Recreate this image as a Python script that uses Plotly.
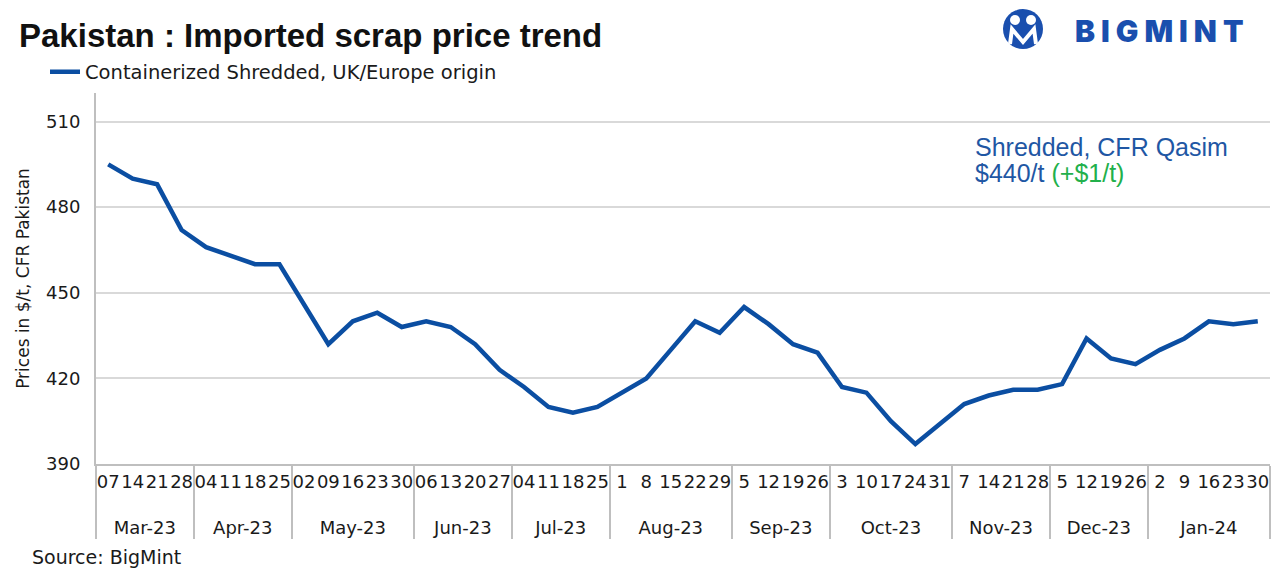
import plotly.graph_objects as go

# ---------------- data ----------------
months = ["Mar-23", "Apr-23", "May-23", "Jun-23", "Jul-23", "Aug-23",
          "Sep-23", "Oct-23", "Nov-23", "Dec-23", "Jan-24"]
days = [
    ["07", "14", "21", "28"],
    ["04", "11", "18", "25"],
    ["02", "09", "16", "23", "30"],
    ["06", "13", "20", "27"],
    ["04", "11", "18", "25"],
    ["1", "8", "15", "22", "29"],
    ["5", "12", "19", "26"],
    ["3", "10", "17", "24", "31"],
    ["7", "14", "21", "28"],
    ["5", "12", "19", "26"],
    ["2", "9", "16", "23", "30"],
]
prices = [495, 490, 488, 472,
          466, 463, 460, 460,
          446, 432, 440, 443, 438,
          440, 438, 432, 423,
          417, 410, 408, 410,
          415, 420, 430, 440, 436,
          445, 439, 432, 429,
          417, 415, 405, 397, 404,
          411, 414, 416, 416,
          418, 434, 427, 425,
          430, 434, 440, 439, 440]
series_name = "Containerized Shredded, UK/Europe origin"
y_ticks = [390, 420, 450, 480, 510]

# multicategory axis: plotly orders 2nd-level labels by first appearance,
# so each month's day labels get an invisible zero-width suffix to stay unique
ZW = "\u200b"
x_month = ["<br>" + m for m, ds in zip(months, days) for _ in ds]
x_day = [d + ZW * i for i, ds in enumerate(days) for d in ds]
n_pts = len(prices)

# ---------------- layout helpers ----------------
W_FIG, H_FIG = 1285, 581
L, R, T, B = 96, 1270, 93, 464
PW, PH = R - L, B - T


def px(x):
    return (x - L) / PW


def py(y):
    return (B - y) / PH


FONT = "DejaVu Sans, sans-serif"
HFONT = "Liberation Sans, Arial, sans-serif"
BLUE = "#0b4ea2"
GRID = "#d9d9d9"
AXIS = "#bfbfbf"
TXT = "#1a1a1a"

fig = go.Figure()
fig.add_trace(go.Scatter(
    x=[x_month, x_day], y=prices, mode="lines", name=series_name,
    line=dict(color=BLUE, width=4.5),
))

fig.update_layout(
    width=W_FIG, height=H_FIG,
    margin=dict(l=L, r=W_FIG - R, t=T, b=H_FIG - B, autoexpand=False),
    paper_bgcolor="white", plot_bgcolor="white",
    font=dict(family=FONT, color=TXT, size=18),
    title=dict(text="<b>Pakistan : Imported scrap price trend</b>",
               xref="container", yref="container", x=19 / W_FIG, y=1 - 35 / H_FIG,
               xanchor="left", yanchor="middle",
               font=dict(size=33, color="#111111", family=HFONT)),
    showlegend=True,
    legend=dict(orientation="h", xref="container", yref="container",
                x=45 / W_FIG, y=1 - 72 / H_FIG, xanchor="left", yanchor="middle",
                font=dict(size=19.5, color=TXT, family=FONT),
                bgcolor="rgba(0,0,0,0)", borderwidth=0),
    xaxis=dict(
        type="multicategory", range=[-0.5, n_pts - 0.5],
        showgrid=False, showline=True, linecolor=AXIS,
        linewidth=2, ticks="", tickangle=0, showdividers=True,
        dividercolor=AXIS, dividerwidth=2,
        tickfont=dict(size=18, color=TXT, family=FONT), automargin=False,
    ),
    yaxis=dict(
        range=[390, 520], tickvals=y_ticks, showgrid=True, gridcolor=GRID,
        gridwidth=1.5, showline=True, linecolor=AXIS, linewidth=2,
        zeroline=False, ticks="outside", ticklen=10, tickcolor="rgba(0,0,0,0)",
        tickfont=dict(size=18, color=TXT, family=FONT), automargin=False,
        title=dict(text="Prices in $/t, CFR Pakistan", standoff=12,
                   font=dict(size=17, color=TXT, family=FONT)),
    ),
)

# annotations
fig.add_annotation(text="Shredded, CFR Qasim", xref="paper", yref="paper",
                   x=px(973), y=py(147), xanchor="left", yanchor="middle",
                   showarrow=False, font=dict(size=25, color="#1f57a4", family=HFONT))
fig.add_annotation(text="$440/t <span style='color:#22b04b'>(+$1/t)</span>",
                   xref="paper", yref="paper",
                   x=px(973), y=py(173), xanchor="left", yanchor="middle",
                   showarrow=False, font=dict(size=25, color="#1f57a4", family=HFONT))
fig.add_annotation(text="Source: BigMint", xref="paper", yref="paper",
                   x=px(30), y=py(557), xanchor="left", yanchor="middle",
                   showarrow=False, font=dict(size=19, color=TXT, family=FONT))

# logo
LOGO = "#1a4fae"
fig.add_annotation(text="<span style='letter-spacing:6px'>BIGMINT</span>",
                   xref="paper", yref="paper",
                   x=px(1073), y=py(31), xanchor="left", yanchor="middle",
                   showarrow=False,
                   font=dict(size=30, color=LOGO, family="Inter, Open Sans, sans-serif",
                             weight=900))
cx, cy, r = 1023, 29, 20
fig.add_shape(type="circle", xref="paper", yref="paper",
              x0=px(cx - r), x1=px(cx + r), y0=py(cy + r), y1=py(cy - r),
              fillcolor=LOGO, line=dict(width=0), layer="above")
for hx in (cx - 8, cx + 8):
    fig.add_shape(type="circle", xref="paper", yref="paper",
                  x0=px(hx - 5), x1=px(hx + 5), y0=py(cy - 4), y1=py(cy - 14),
                  fillcolor="white", line=dict(width=0), layer="above")
m_pts = [(cx - 13, cy + 15), (cx - 11, cy), (cx, cy + 13),
         (cx + 11, cy), (cx + 13, cy + 15)]
path = "M " + " L ".join(f"{px(a)},{py(b)}" for a, b in m_pts)
fig.add_shape(type="path", xref="paper", yref="paper", path=path,
              line=dict(color="white", width=4), layer="above")

fig.write_html("out.html", config={"displayModeBar": False},
               post_script="document.body.style.margin='0';")
